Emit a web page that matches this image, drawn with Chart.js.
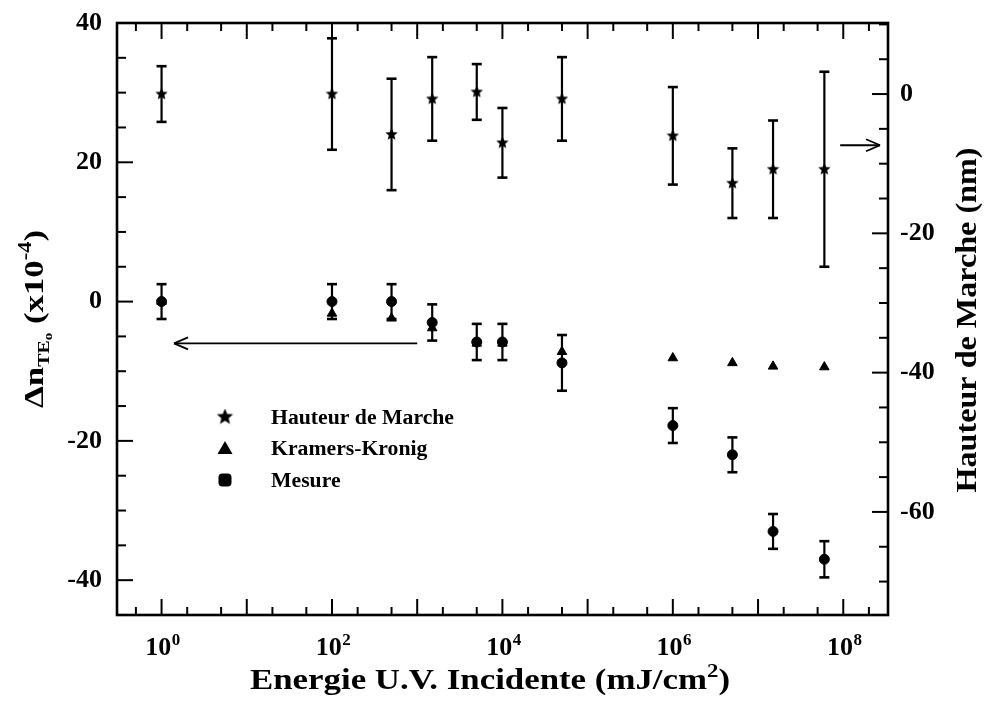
<!DOCTYPE html>
<html>
<head>
<meta charset="utf-8">
<title>Δn TE0 / Hauteur de Marche vs Energie U.V.</title>
<script src="https://cdn.jsdelivr.net/npm/chart.js@4.4.0/dist/chart.umd.min.js"></script>
<style>
  html, body { margin: 0; padding: 0; background: #fff; }
  #wrap { width: 990px; height: 703px; position: relative; }
</style>
</head>
<body>
<div id="wrap"><canvas id="chart"></canvas></div>
<script>
// energie U.V. incidente (mJ/cm2), one entry per sample
const energies = [1, 100, 500, 1500, 5000, 10000, 50000, 1e6, 5e6, 1.5e7, 6e7];

// Hauteur de marche (nm) -> right axis
const hauteur    = [0, 0, -5.8, -0.7, 0.3, -7, -0.7, -6, -12.8, -10.8, -10.8];
const hauteurErr = [4, 8, 8, 6, 4, 5, 6, 7, 5, 7, 14];

// Kramers-Kronig (x1e-4) -> left axis
const kramers = [0, -1.7, -2.4, -3.8, -6, -6, -7.2, -8.1, -8.8, -9.3, -9.4];

// Mesure (x1e-4) -> left axis
const mesure    = [0, 0, 0, -3, -5.8, -5.8, -8.8, -17.8, -22, -33, -37];
const mesureErr = [2.5, 2.5, 2.5, 2.6, 2.6, 2.6, 4, 2.5, 2.5, 2.5, 2.6];

// axis ranges and ticks
const xMin = 0.314, xMax = 3.35e8;
const xTickValues = [0.5, 1, 2, 5, 10, 20, 50, 100, 200, 500, 1000, 2000, 5000,
  1e4, 2e4, 5e4, 1e5, 2e5, 5e5, 1e6, 2e6, 5e6, 1e7, 2e7, 5e7, 1e8, 2e8];
const xDecades = [1, 10, 100, 1000, 1e4, 1e5, 1e6, 1e7, 1e8];
const xLabelValues = [1, 100, 1e4, 1e6, 1e8];
const xLabelExps = ['0', '2', '4', '6', '8'];

const leftMin = -45, leftMax = 40;
const leftTicks = [-40, -35, -30, -25, -20, -15, -10, -5, 0, 5, 10, 15, 20, 25, 30, 35, 40];
const leftLabels = [-40, -20, 0, 20, 40];

const rightMin = -74.8, rightMax = 10.2;
const rightTicks = [-70, -65, -60, -55, -50, -45, -40, -35, -30, -25, -20, -15, -10, -5, 0, 5, 10];
const rightLabels = [-60, -40, -20, 0];

// arrows pointing at the axis each series belongs to
const leftArrow  = { x1: 1000, x2: 1.4, y: -6, axis: 'y' };
const rightArrow = { x1: 9.2e7, x2: 2.7e8, y: -7.35, axis: 'y2' };

const SERIF = '"Liberation Serif", "Times New Roman", serif';
const TICK_SIZE = 26;

function makeStar(size) {
  const c = document.createElement('canvas');
  c.width = size; c.height = size;
  const g = c.getContext('2d');
  const cx = size / 2, cy = size / 2, ro = size / 2, ri = ro * 0.45;
  g.beginPath();
  for (let i = 0; i < 10; i++) {
    const r = i % 2 ? ri : ro;
    const a = -Math.PI / 2 + i * Math.PI / 5;
    g.lineTo(cx + r * Math.cos(a), cy + r * Math.sin(a));
  }
  g.closePath();
  g.fillStyle = '#000';
  g.fill();
  return c;
}

function line(ctx, x1, y1, x2, y2) {
  ctx.beginPath();
  ctx.moveTo(x1, y1);
  ctx.lineTo(x2, y2);
  ctx.stroke();
}

// text made of pieces with their own size and vertical shift
function richWidth(ctx, parts) {
  let w = 0;
  parts.forEach(p => { ctx.font = `bold ${p.size}px ${SERIF}`; w += ctx.measureText(p.t).width; });
  return w;
}
function drawRich(ctx, parts, x, y) {
  let cx = x;
  parts.forEach(p => {
    ctx.font = `bold ${p.size}px ${SERIF}`;
    ctx.fillText(p.t, cx, y + (p.dy || 0));
    cx += ctx.measureText(p.t).width;
  });
}
// centred at (cx, y), stretched horizontally to the width seen in the scan
function drawRichFit(ctx, parts, cx, y, targetW, rot) {
  const w = richWidth(ctx, parts);
  ctx.save();
  ctx.translate(cx, y);
  if (rot) ctx.rotate(rot);
  ctx.scale(targetW / w, 1);
  drawRich(ctx, parts, -w / 2, 0);
  ctx.restore();
}

// frame with inward ticks on all four sides
const frameTicks = {
  id: 'frameTicks',
  afterDraw(chart) {
    const { ctx, chartArea: a, scales } = chart;
    ctx.save();
    ctx.strokeStyle = '#000';
    ctx.lineWidth = 2;
    scales.x.ticks.forEach(t => {
      const px = scales.x.getPixelForValue(t.value);
      const len = xDecades.includes(t.value) ? 16 : 8;
      line(ctx, px, a.bottom, px, a.bottom - len);
      line(ctx, px, a.top, px, a.top + len);
    });
    scales.y.ticks.forEach(t => {
      const py = scales.y.getPixelForValue(t.value);
      line(ctx, a.left, py, a.left + (leftLabels.includes(t.value) ? 16 : 9), py);
    });
    scales.y2.ticks.forEach(t => {
      const py = scales.y2.getPixelForValue(t.value);
      line(ctx, a.right, py, a.right - (rightLabels.includes(t.value) ? 16 : 9), py);
    });
    ctx.lineWidth = 2.6;
    ctx.strokeRect(a.left, a.top, a.right - a.left, a.bottom - a.top);

    // exponents of the 10^n tick labels
    ctx.fillStyle = '#000';
    ctx.textBaseline = 'alphabetic';
    xLabelValues.forEach((v, i) => {
      const px = scales.x.getPixelForValue(v);
      ctx.font = `bold ${TICK_SIZE}px ${SERIF}`;
      const w10 = ctx.measureText('10').width, wAll = ctx.measureText('10 ').width;
      ctx.font = `bold 17px ${SERIF}`;
      ctx.fillText(xLabelExps[i], px - wAll / 2 + w10 + 0.5, a.bottom + 30);
    });
    ctx.restore();
  }
};

// vertical error bars with caps
const errorBars = {
  id: 'errorBars',
  beforeDatasetsDraw(chart) {
    const { ctx } = chart;
    ctx.save();
    ctx.strokeStyle = '#000';
    chart.data.datasets.forEach((ds, i) => {
      if (!ds.errors) return;
      const ys = chart.scales[ds.yAxisID];
      chart.getDatasetMeta(i).data.forEach((pt, j) => {
        const v = ds.data[j].y, e = ds.errors[j];
        const top = ys.getPixelForValue(v + e), bot = ys.getPixelForValue(v - e);
        ctx.lineWidth = 2.2;
        line(ctx, pt.x, top, pt.x, bot);
        ctx.lineWidth = 2.6;
        line(ctx, pt.x - 5, top, pt.x + 5, top);
        line(ctx, pt.x - 5, bot, pt.x + 5, bot);
      });
    });
    ctx.restore();
  }
};

// arrows, titles and legend
const annotations = {
  id: 'annotations',
  afterDraw(chart) {
    const { ctx, scales } = chart;
    ctx.save();
    ctx.strokeStyle = '#000';
    ctx.fillStyle = '#000';
    ctx.lineWidth = 1.8;
    [leftArrow, rightArrow].forEach(ar => {
      const x1 = scales.x.getPixelForValue(ar.x1), x2 = scales.x.getPixelForValue(ar.x2);
      const y = scales[ar.axis].getPixelForValue(ar.y);
      const dir = x2 > x1 ? 1 : -1;
      line(ctx, x1, y, x2, y);
      line(ctx, x2, y, x2 - dir * 14, y - 6);
      line(ctx, x2, y, x2 - dir * 14, y + 6);
    });

    ctx.textBaseline = 'alphabetic';
    // x title
    drawRichFit(ctx, [
      { t: 'Energie U.V. Incidente (mJ/cm', size: 29 }, { t: '2', size: 19, dy: -12 }, { t: ')', size: 29 }
    ], 490, 689, 480);

    // left title, rotated
    drawRichFit(ctx, [
      { t: 'Δn', size: 28 }, { t: 'TE', size: 16, dy: 6 }, { t: 'o', size: 12, dy: 9 },
      { t: ' (x10', size: 28 }, { t: '-4', size: 18, dy: -12 }, { t: ')', size: 28 }
    ], 43, 319, 178, -Math.PI / 2);

    // right title, rotated
    drawRichFit(ctx, [{ t: 'Hauteur de Marche (nm)', size: 30 }], 976, 320, 345, -Math.PI / 2);

    // legend
    const items = ['Hauteur de Marche', 'Kramers-Kronig', 'Mesure'];
    const lx = 225, ly = [417, 448, 480];
    ctx.drawImage(legendStar, lx - legendStar.width / 2, ly[0] - legendStar.height / 2);
    ctx.beginPath();
    ctx.moveTo(lx, ly[1] - 7); ctx.lineTo(lx + 7.5, ly[1] + 6); ctx.lineTo(lx - 7.5, ly[1] + 6);
    ctx.closePath(); ctx.fill();
    ctx.beginPath();
    ctx.roundRect(lx - 6.5, ly[2] - 6.5, 13, 13, 4);
    ctx.fill();
    ctx.font = `bold 20px ${SERIF}`;
    const sx = 183 / ctx.measureText(items[0]).width;
    items.forEach((s, i) => {
      ctx.save();
      ctx.translate(271, ly[i] + 7);
      ctx.scale(sx, 1);
      ctx.fillText(s, 0, 0);
      ctx.restore();
    });
    ctx.restore();
  }
};

const pointStar = makeStar(13);
const legendStar = makeStar(17);

function pairs(ys) {
  return energies.map((e, i) => ({ x: e, y: ys[i] }));
}

const tickFont = { family: SERIF, size: TICK_SIZE, weight: 'bold' };
// no label overhang padding: the frame sits exactly where the scan has it
const noPad = s => { s.paddingTop = 0; s.paddingBottom = 0; s.paddingLeft = 0; s.paddingRight = 0; };

new Chart(document.getElementById('chart'), {
  type: 'scatter',
  data: {
    datasets: [
      { label: 'Hauteur de Marche', data: pairs(hauteur), errors: hauteurErr, yAxisID: 'y2',
        pointStyle: pointStar, pointRadius: 6, backgroundColor: '#000', borderColor: '#000' },
      { label: 'Kramers-Kronig', data: pairs(kramers), yAxisID: 'y',
        pointStyle: 'triangle', pointRadius: 5.5, backgroundColor: '#000', borderColor: '#000', borderWidth: 1 },
      { label: 'Mesure', data: pairs(mesure), errors: mesureErr, yAxisID: 'y',
        pointStyle: 'circle', pointRadius: 5, backgroundColor: '#000', borderColor: '#000', borderWidth: 1 }
    ]
  },
  options: {
    responsive: true,
    maintainAspectRatio: false,
    animation: false,
    devicePixelRatio: 1,
    layout: { padding: { top: 23, left: 0, right: 0, bottom: 0 } },
    plugins: { legend: { display: false }, tooltip: { enabled: false } },
    scales: {
      x: {
        type: 'logarithmic', min: xMin, max: xMax, position: 'bottom',
        afterBuildTicks: s => { s.ticks = xTickValues.map(v => ({ value: v })); },
        afterFit: s => { s.height = 88; noPad(s); },
        grid: { display: false, drawTicks: false }, border: { display: false },
        ticks: {
          autoSkip: false, maxRotation: 0, padding: 18, color: '#000', font: tickFont,
          callback: v => xLabelValues.includes(v) ? '10 ' : ''
        }
      },
      y: {
        position: 'left', min: leftMin, max: leftMax,
        afterBuildTicks: s => { s.ticks = leftTicks.map(v => ({ value: v })); },
        afterFit: s => { s.width = 117; noPad(s); },
        grid: { display: false, drawTicks: false }, border: { display: false },
        ticks: { autoSkip: false, padding: 15, color: '#000', font: tickFont,
          callback: v => leftLabels.includes(v) ? String(v) : '' }
      },
      y2: {
        position: 'right', min: rightMin, max: rightMax,
        afterBuildTicks: s => { s.ticks = rightTicks.map(v => ({ value: v })); },
        afterFit: s => { s.width = 102; noPad(s); },
        grid: { display: false, drawTicks: false }, border: { display: false },
        ticks: { autoSkip: false, padding: 12, color: '#000', font: tickFont,
          callback: v => rightLabels.includes(v) ? String(v) : '' }
      }
    }
  },
  plugins: [errorBars, frameTicks, annotations]
});
</script>
</body>
</html>
